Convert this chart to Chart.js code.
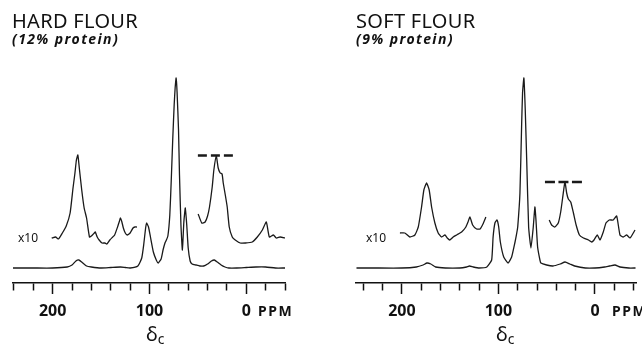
<!DOCTYPE html>
<html>
<head>
<meta charset="utf-8">
<script src="https://cdn.jsdelivr.net/npm/chart.js@4.4.1/dist/chart.umd.min.js"></script>
<style>
  body { margin: 0; background: #fff; }
  .panel { position: absolute; top: 0; width: 321px; height: 348px; }
  .txt { position: absolute; color: #111; font-family: 'Noto Sans', sans-serif; white-space: nowrap; }
  .title { font-size: 20px; line-height: 20px; letter-spacing: 0.3px; }
  .sub { font-size: 14px; line-height: 14px; font-style: italic; font-weight: bold; letter-spacing: 1.4px; }
  .x10 { font-size: 12px; line-height: 12px; }
  .ppm { font-size: 14px; line-height: 14px; font-weight: bold; letter-spacing: 1.5px; }
  .delta { font-size: 20px; line-height: 20px; }
  .delta sub { font-size: 14px; vertical-align: -3px; }
</style>
</head>
<body>
<div class="panel" style="left:0"><canvas id="hardChart" width="321" height="348"></canvas></div>
<div class="panel" style="left:321px"><canvas id="softChart" width="321" height="348"></canvas></div>

<div class="txt title" style="left:12px;top:11px">HARD FLOUR</div>
<div class="txt sub" style="left:12px;top:32px">(12% protein)</div>
<div class="txt title" style="left:356px;top:11px">SOFT FLOUR</div>
<div class="txt sub" style="left:356px;top:32px">(9% protein)</div>
<div class="txt x10" style="left:18px;top:232px">x10</div>
<div class="txt x10" style="left:366px;top:232px">x10</div>
<div class="txt ppm" style="left:258px;top:304px">PPM</div>
<div class="txt ppm" style="left:612px;top:304px">PPM</div>
<div class="txt delta" style="left:146px;top:324px">δ<sub>c</sub></div>
<div class="txt delta" style="left:496px;top:324px">δ<sub>c</sub></div>

<script>
// hard flour (12% protein) - chemical shift in ppm, intensity in arbitrary units
const hardMainPpm = [241, 220, 200, 185, 180, 176, 173, 170, 165, 160, 150, 140, 130, 125, 120, 112, 108, 106, 104, 103, 101, 99, 96, 93, 91, 88, 86, 84, 83, 81, 79, 77.5, 76, 74.5, 73.5, 72.5, 71.5, 70, 69, 67.5, 66, 64.5, 63, 61.5, 60, 58, 56, 52, 48, 44, 40, 36, 33, 30, 26, 22, 18, 10, 0, -10, -20, -30, -40];
const hardMainVal = [0, 0, 0, 1, 3, 7, 8, 6, 2, 1, 0, 0.5, 1, 0.5, 0, 2, 10, 23, 40, 45, 41, 31, 16, 8, 5, 9, 18, 25, 27, 32, 53, 88, 128, 163, 180, 190, 176, 138, 93, 43, 18, 46, 60, 43, 20, 7, 4, 3, 2, 2, 4, 7, 8, 6, 3, 1, 0, 0, 0.5, 1, 1, 0, 0];
const hardX10aPpm = [201, 197, 194, 190, 186, 182, 179, 177, 175.5, 174, 172.5, 170, 167.5, 165, 162, 160, 157, 156, 154, 152, 149, 146, 144, 141, 138, 136, 133, 131, 130, 128.5, 127, 125, 123, 120, 117, 115, 113];
const hardX10aVal = [30, 31, 29, 35, 42, 55, 80, 95, 108, 113, 100, 78, 60, 50, 31, 32, 35, 36, 31, 28, 25, 25, 24, 28, 31, 33, 41, 47, 50, 46, 40, 35, 33, 35, 40, 41, 41];
const hardX10bPpm = [49.7, 46, 42.5, 40, 38, 35.2, 33.5, 31, 29, 27, 25, 23.8, 21.5, 19.7, 17.6, 14.5, 11.4, 6.2, 1, -6.2, -11.4, -16.6, -20.7, -23.8, -28, -31, -35, -40.4];
const hardX10bVal = [54, 45, 46, 52, 61, 81, 98, 112, 100, 95, 94, 85, 72, 61, 41, 31, 28, 25, 25, 26, 31, 38, 46, 31, 33, 30, 31, 30];
const hardCapPpm = [50, 13.5];
const hardCapVal = [112.5, 112.5];

// soft flour (9% protein)
const softMainPpm = [247, 230, 200, 185, 178, 174, 170, 165, 155, 140, 133, 130, 126, 120, 112, 107, 105.5, 103.6, 101.5, 99.7, 98, 94.5, 90, 86.3, 83, 81, 80, 77.7, 76, 75, 73.6, 72.2, 70.7, 68.7, 66.3, 63.9, 62.2, 61.1, 59.4, 57, 56, 50, 43.5, 36, 31, 26, 21, 10, 0, -10, -15, -20.7, -26, -35, -42];
const softMainVal = [0, 0, 0, 1, 3, 5, 4, 1, 0, 0, 1, 2, 1, 0, 1, 8, 31, 45, 48, 41, 26, 11, 5, 11, 25, 35, 41, 75, 141, 175, 190, 158, 108, 41, 20, 41, 61, 48, 21, 8, 5, 3, 2, 4, 6, 4, 2, 0, 0, 1, 2, 3, 1, 0, 0];
const softX10aPpm = [202, 197, 191.7, 186.5, 183, 179.6, 177.2, 174.4, 171.7, 169.2, 165.8, 162.4, 158.9, 155.4, 153, 150.3, 146.8, 143.3, 138.1, 133.7, 131.5, 129.5, 126.7, 122.6, 119, 116, 113];
const softX10aVal = [35, 35, 31, 33, 41, 61, 78, 85, 78, 61, 45, 35, 31, 33, 30, 28, 31, 33, 36, 41, 46, 51, 43, 39, 39, 44, 51];
const softX10bPpm = [47.4, 44.9, 41.5, 38, 35.5, 33.5, 31.1, 29.3, 27.6, 25.1, 22.3, 19.5, 16.1, 11.9, 6.7, 3.4, 1, -2.4, -5.2, -8.6, -11.4, -14.8, -19, -22.5, -25.9, -29.3, -32.9, -36.3, -41.5];
const softX10bVal = [48, 43, 41, 45, 56, 70, 86, 75, 69, 66, 55, 43, 33, 30, 28, 26, 28, 33, 28, 36, 45, 48, 48, 52, 33, 31, 33, 30, 38];
const softCapPpm = [51.8, 13.5];
const softCapVal = [86, 86];

const tickStep = 20;
const majorStep = 100;

function toPoints(ppm, val) {
    return ppm.map((p, i) => ({ x: p, y: val[i] }));
}

function trace(ppm, val) {
    return {
        data: toPoints(ppm, val),
        borderColor: '#1a1a1a',
        borderWidth: 1.3,
        pointRadius: 0,
        tension: 0.15,
        fill: false
    };
}

function makePanel(id, xMin, xMax, padLeft, padRight, datasets) {
    var ctx = document.getElementById(id).getContext('2d');
    return new Chart(ctx, {
        type: 'line',
        data: { datasets: datasets },
        options: {
            responsive: false,
            animation: false,
            layout: { padding: { left: padLeft, right: padRight, top: 63, bottom: 0 } },
            plugins: { legend: { display: false }, tooltip: { enabled: false } },
            scales: {
                x: {
                    type: 'linear',
                    reverse: true,
                    min: xMin,
                    max: xMax,
                    afterFit: (scale) => { scale.height = 65; },
                    border: { display: true, color: '#111', width: 1.5 },
                    grid: {
                        drawOnChartArea: false,
                        drawTicks: true,
                        tickLength: 11,
                        tickColor: '#111',
                        tickWidth: 1.5,
                        tickBorderDash: (c) => (c.tick && c.tick.value % majorStep === 0) ? [] : [7, 30]
                    },
                    ticks: {
                        stepSize: tickStep,
                        includeBounds: false,
                        autoSkip: false,
                        maxRotation: 0,
                        minRotation: 0,
                        padding: 8,
                        color: '#111',
                        font: { family: 'Noto Sans', size: 16, weight: 'bold' },
                        callback: (v) => v % majorStep === 0 ? String(v) : ''
                    }
                },
                y: { display: false, min: -15, max: 205 }
            }
        }
    });
}

var hardCap = trace(hardCapPpm, hardCapVal);
hardCap.borderWidth = 2.5;
hardCap.borderDash = [9, 4];
hardCap.tension = 0;

var softCap = trace(softCapPpm, softCapVal);
softCap.borderWidth = 2.5;
softCap.borderDash = [10, 3.5];
softCap.tension = 0;

makePanel('hardChart', -40, 241, 13, 36, [
    trace(hardMainPpm, hardMainVal),
    trace(hardX10aPpm, hardX10aVal),
    trace(hardX10bPpm, hardX10bVal),
    hardCap
]);

makePanel('softChart', -42.5, 247.5, 35, 6, [
    trace(softMainPpm, softMainVal),
    trace(softX10aPpm, softX10aVal),
    trace(softX10bPpm, softX10bVal),
    softCap
]);
</script>
</body>
</html>
